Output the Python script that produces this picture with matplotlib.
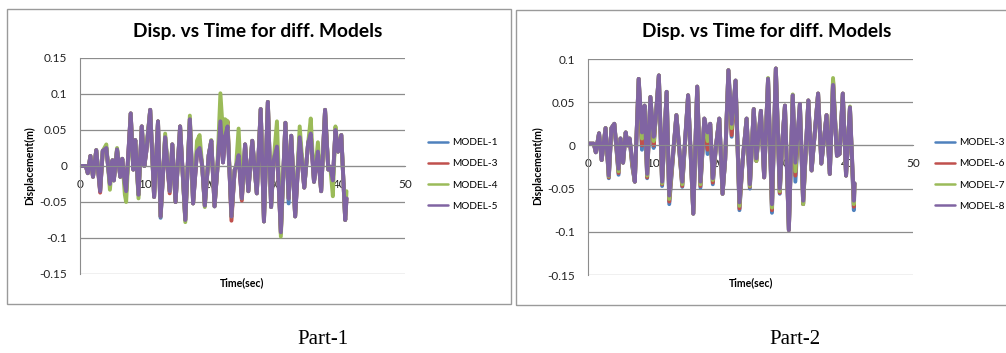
import matplotlib
matplotlib.use("Agg")
import matplotlib.pyplot as plt
from matplotlib.patches import Rectangle

# ---- Part-1 data (time in sec, displacement in m) ----
t1 = [0.0, 0.9, 1.2, 1.6, 2.0, 2.5, 3.1, 3.5, 4.05, 4.6,
      5.0, 5.2, 5.7, 6.2, 6.5, 6.9, 7.1, 7.8, 8.2, 8.5,
      9.0, 9.5, 9.9, 10.2, 10.8, 11.4, 12.0, 12.4, 13.1, 13.8,
      14.2, 14.7, 15.4, 16.2, 16.9, 17.4, 18.0, 18.4, 18.8, 19.2,
      19.8, 20.2, 20.7, 21.1, 21.6, 22.0, 22.3, 22.7, 23.3, 23.8,
      24.0, 24.4, 24.9, 25.4, 25.9, 26.5, 27.2, 27.8, 28.3, 28.9,
      29.4, 29.8, 30.3, 30.9, 31.6, 32.1, 32.5, 33.1, 33.8, 34.5,
      35.1, 35.5, 36.0, 36.6, 37.1, 37.7, 38.2, 38.5, 38.9, 39.3,
      39.7, 40.2, 40.8, 41.0]

model1 = [0.000, 0.000, -0.010, 0.014, -0.015, 0.022, -0.035, 0.021, 0.025, -0.025,
          0.008, -0.020, 0.023, -0.015, 0.010, -0.025, -0.035, 0.073, -0.005, 0.036,
          -0.040, 0.055, 0.000, 0.020, 0.078, -0.043, 0.062, -0.072, 0.040, -0.035,
          0.030, -0.050, 0.055, -0.075, 0.065, -0.052, 0.020, 0.025, 0.000, -0.055,
          0.015, 0.035, -0.056, -0.008, 0.062, 0.005, 0.040, 0.055, -0.070, -0.005,
          -0.002, 0.015, -0.045, 0.030, -0.035, 0.035, -0.038, 0.079, -0.077, 0.089,
          -0.057, 0.008, 0.027, -0.092, 0.060, -0.052, 0.042, -0.070, 0.040, -0.030,
          0.032, 0.045, -0.022, 0.020, -0.035, 0.078, -0.005, -0.001, -0.020, 0.050,
          0.020, 0.043, -0.075, -0.045]

model3 = [0.000, 0.000, -0.010, 0.014, -0.015, 0.022, -0.037, 0.021, 0.025, -0.025,
          0.008, -0.020, 0.023, -0.015, 0.010, -0.025, -0.035, 0.073, -0.005, 0.036,
          -0.040, 0.055, 0.000, 0.020, 0.078, -0.043, 0.062, -0.070, 0.040, -0.038,
          0.030, -0.050, 0.055, -0.075, 0.065, -0.052, 0.020, 0.025, 0.000, -0.055,
          0.015, 0.035, -0.056, -0.008, 0.062, 0.005, 0.040, 0.062, -0.076, -0.005,
          -0.002, 0.015, -0.048, 0.030, -0.035, 0.035, -0.038, 0.079, -0.077, 0.089,
          -0.057, 0.008, 0.027, -0.094, 0.060, -0.045, 0.042, -0.070, 0.040, -0.030,
          0.032, 0.045, -0.022, 0.020, -0.035, 0.078, -0.005, -0.001, -0.020, 0.050,
          0.020, 0.043, -0.075, -0.045]

model4 = [0.000, 0.000, -0.010, 0.014, -0.015, 0.022, -0.033, 0.021, 0.030, -0.033,
          0.008, -0.020, 0.025, -0.015, 0.010, -0.040, -0.050, 0.073, -0.005, 0.036,
          -0.045, 0.055, 0.000, 0.025, 0.078, -0.043, 0.062, -0.070, 0.045, -0.035,
          0.030, -0.050, 0.055, -0.078, 0.070, -0.052, 0.035, 0.043, 0.000, -0.057,
          0.015, 0.036, -0.056, -0.008, 0.101, 0.045, 0.065, 0.062, -0.070, -0.005,
          -0.002, 0.052, -0.045, 0.030, -0.035, 0.035, -0.038, 0.079, -0.077, 0.089,
          -0.057, 0.008, 0.062, -0.098, 0.060, -0.045, 0.042, -0.070, 0.055, -0.030,
          0.032, 0.066, -0.022, 0.033, -0.035, 0.078, -0.005, -0.001, -0.042, 0.055,
          0.020, 0.043, -0.075, -0.035]

model5 = [0.000, 0.000, -0.010, 0.014, -0.015, 0.022, -0.035, 0.021, 0.025, -0.025,
          0.008, -0.020, 0.023, -0.015, 0.010, -0.025, -0.035, 0.073, -0.005, 0.036,
          -0.040, 0.055, 0.000, 0.020, 0.078, -0.043, 0.062, -0.070, 0.040, -0.035,
          0.030, -0.050, 0.055, -0.075, 0.065, -0.052, 0.020, 0.025, 0.000, -0.055,
          0.015, 0.035, -0.056, -0.008, 0.062, 0.005, 0.040, 0.055, -0.070, -0.005,
          -0.002, 0.015, -0.045, 0.030, -0.035, 0.035, -0.038, 0.079, -0.077, 0.089,
          -0.057, 0.008, 0.027, -0.092, 0.060, -0.045, 0.042, -0.070, 0.040, -0.030,
          0.032, 0.045, -0.022, 0.020, -0.035, 0.078, -0.005, -0.001, -0.020, 0.050,
          0.020, 0.043, -0.075, -0.045]

# ---- Part-2 data ----
t2 = [0.0, 0.9, 1.2, 1.7, 2.1, 2.7, 3.2, 3.6, 4.05, 4.7,
      5.0, 5.4, 5.8, 6.1, 6.4, 6.8, 7.2, 7.8, 8.3, 8.7,
      9.1, 9.6, 10.1, 10.4, 10.9, 11.4, 12.1, 12.5, 13.6, 14.5,
      15.4, 16.2, 16.8, 17.3, 17.9, 18.4, 18.8, 19.2, 19.7, 20.2,
      20.7, 21.1, 21.6, 22.1, 22.7, 23.3, 23.8, 24.4, 24.9, 25.5,
      25.9, 26.6, 27.1, 27.7, 28.3, 28.9, 29.5, 29.9, 30.3, 30.9,
      31.5, 31.9, 32.6, 33.1, 33.9, 34.4, 35.4, 35.9, 36.7, 37.2,
      37.7, 38.3, 38.7, 39.2, 39.7, 40.3, 40.9, 41.0]

model3b = [0.002, 0.002, -0.008, 0.014, -0.017, 0.020, -0.038, 0.020, 0.025, -0.034,
           0.008, -0.020, 0.015, 0.000, 0.008, -0.024, -0.042, 0.077, -0.005, 0.046,
           -0.038, 0.056, -0.003, 0.030, 0.081, -0.047, 0.062, -0.068, 0.035, -0.048,
           0.058, -0.079, 0.068, -0.049, 0.031, -0.010, 0.025, -0.045, 0.000, 0.031,
           -0.056, -0.017, 0.087, 0.010, 0.075, -0.075, -0.017, 0.031, -0.050, 0.042,
           -0.018, 0.040, -0.037, 0.077, -0.078, 0.089, -0.056, 0.005, 0.046, -0.098,
           0.058, -0.042, 0.048, -0.068, 0.052, -0.029, 0.060, -0.021, 0.035, -0.033,
           0.074, -0.012, -0.010, 0.060, -0.035, 0.044, -0.075, -0.044]

model6 = [0.002, 0.002, -0.008, 0.014, -0.017, 0.020, -0.037, 0.020, 0.025, -0.032,
          0.008, -0.020, 0.015, 0.000, 0.008, -0.022, -0.042, 0.077, 0.000, 0.046,
          -0.037, 0.056, 0.000, 0.030, 0.081, -0.045, 0.062, -0.065, 0.035, -0.047,
          0.058, -0.079, 0.068, -0.047, 0.031, -0.005, 0.025, -0.043, 0.000, 0.031,
          -0.056, -0.017, 0.087, 0.012, 0.075, -0.073, -0.017, 0.031, -0.048, 0.042,
          -0.018, 0.040, -0.037, 0.077, -0.075, 0.089, -0.055, 0.005, 0.046, -0.098,
          0.058, -0.035, 0.048, -0.068, 0.052, -0.029, 0.060, -0.021, 0.035, -0.033,
          0.075, -0.012, -0.010, 0.060, -0.035, 0.044, -0.071, -0.044]

model7 = [0.002, 0.002, -0.008, 0.014, -0.017, 0.020, -0.036, 0.020, 0.025, -0.030,
          0.008, -0.020, 0.015, 0.000, 0.008, -0.020, -0.042, 0.077, 0.008, 0.046,
          -0.035, 0.056, 0.005, 0.030, 0.081, -0.044, 0.062, -0.062, 0.035, -0.045,
          0.058, -0.079, 0.068, -0.045, 0.031, 0.005, 0.025, -0.040, 0.000, 0.031,
          -0.056, -0.017, 0.087, 0.020, 0.075, -0.070, -0.017, 0.031, -0.047, 0.042,
          -0.018, 0.040, -0.037, 0.078, -0.072, 0.089, -0.053, 0.005, 0.046, -0.098,
          0.059, -0.030, 0.048, -0.068, 0.052, -0.029, 0.060, -0.021, 0.035, -0.033,
          0.078, -0.012, -0.010, 0.060, -0.035, 0.045, -0.068, -0.044]

model8 = [0.002, 0.002, -0.008, 0.014, -0.017, 0.020, -0.035, 0.020, 0.025, -0.027,
          0.008, -0.020, 0.015, 0.000, 0.008, -0.017, -0.042, 0.077, 0.015, 0.046,
          -0.033, 0.056, 0.010, 0.030, 0.081, -0.042, 0.062, -0.058, 0.035, -0.042,
          0.058, -0.079, 0.068, -0.042, 0.031, 0.015, 0.025, -0.038, 0.000, 0.031,
          -0.056, -0.017, 0.087, 0.025, 0.075, -0.066, -0.017, 0.031, -0.045, 0.042,
          -0.015, 0.040, -0.037, 0.077, -0.068, 0.089, -0.050, 0.005, 0.046, -0.098,
          0.058, -0.020, 0.048, -0.064, 0.052, -0.029, 0.060, -0.021, 0.035, -0.033,
          0.070, -0.012, -0.010, 0.060, -0.035, 0.044, -0.064, -0.044]

labels1 = ["MODEL-1", "MODEL-3", "MODEL-4", "MODEL-5"]
labels2 = ["MODEL-3", "MODEL-6", "MODEL-7", "MODEL-8"]
yticks1 = [-0.15, -0.1, -0.05, 0, 0.05, 0.1, 0.15]
yticks2 = [-0.15, -0.1, -0.05, 0, 0.05, 0.1]
xticks = [0, 10, 20, 30, 40, 50]

colors = ["#4F81BD", "#C0504D", "#9BBB59", "#8064A2"]
GRID = "#8c8c8c"
FONT = "Lato"

W, H = 1006, 353
fig = plt.figure(figsize=(W / 100, H / 100), dpi=100)


def fx(px):
    return px / W


def fy(py):
    return 1 - py / H


def draw_panel(left, right, top, bottom, t, series, labels, yticks, box, title_x, ylab_x, xlab_x, leg_x):
    ax = fig.add_axes([fx(left), fy(bottom), fx(right - left), (bottom - top) / H])
    for vals, lab, col in zip(series, labels, colors):
        ax.plot(t, vals, color=col, lw=2.8, label=lab,
                solid_joinstyle="round", solid_capstyle="round")
    ax.set_xlim(0, 50)
    ax.set_ylim(yticks[0], yticks[-1])
    ax.set_yticks(yticks)
    ax.set_yticklabels(["%g" % v for v in yticks])
    ax.set_xticks(xticks)
    ax.set_xticklabels([str(v) for v in xticks])
    ax.yaxis.grid(True, color=GRID, lw=0.9)
    ax.set_axisbelow(True)
    for s in ["top", "right"]:
        ax.spines[s].set_visible(False)
    ax.spines["left"].set_color(GRID)
    ax.spines["bottom"].set_color(GRID)
    ax.spines["bottom"].set_position(("data", 0))
    ax.tick_params(axis="x", length=0, pad=9, labelsize=8.5, labelcolor="#222222")
    ax.tick_params(axis="y", length=0, pad=9, labelsize=8.5, labelcolor="#222222")
    for lab in ax.get_xticklabels() + ax.get_yticklabels():
        lab.set_fontfamily(FONT)

    leg = ax.legend(loc="upper left", bbox_to_anchor=(fx(leg_x), fy(138)),
                    bbox_transform=fig.transFigure, frameon=False,
                    borderpad=0, borderaxespad=0, handlelength=2.0,
                    handletextpad=0.35, labelspacing=1.2,
                    prop={"family": FONT, "size": 7.3})
    for ln in leg.get_lines():
        ln.set_linewidth(1.8)

    fig.text(fx(title_x), fy(32), "Disp. vs Time for diff. Models", ha="center", va="center",
             fontsize=13.8, fontweight="bold", family=FONT)
    fig.text(fx(ylab_x), fy(166), "Displacement(m)", rotation=90, ha="center", va="center",
             fontsize=7.6, fontweight="bold", family=FONT)
    fig.text(fx(xlab_x), fy(283), "Time(sec)", ha="center", va="center",
             fontsize=7.6, fontweight="bold", family=FONT)

    x0, y0, x1, y1 = box
    fig.add_artist(Rectangle((fx(x0), fy(y1)), fx(x1 - x0), (y1 - y0) / H,
                             transform=fig.transFigure, fill=False,
                             edgecolor="#9a9a9a", lw=1.0))
    return ax


draw_panel(80, 405, 58, 274, t1, [model1, model3, model4, model5], labels1, yticks1,
           (7, 9, 511, 304), 258, 30, 242, 428)
draw_panel(588, 913, 59, 275, t2, [model3b, model6, model7, model8], labels2, yticks2,
           (516, 10, 1012, 305), 767, 538, 751, 935)

fig.text(fx(323), fy(339), "Part-1", ha="center", va="center", fontsize=15,
         family="Liberation Serif")
fig.text(fx(795), fy(339), "Part-2", ha="center", va="center", fontsize=15,
         family="Liberation Serif")

fig.savefig("out.png", dpi=100)
